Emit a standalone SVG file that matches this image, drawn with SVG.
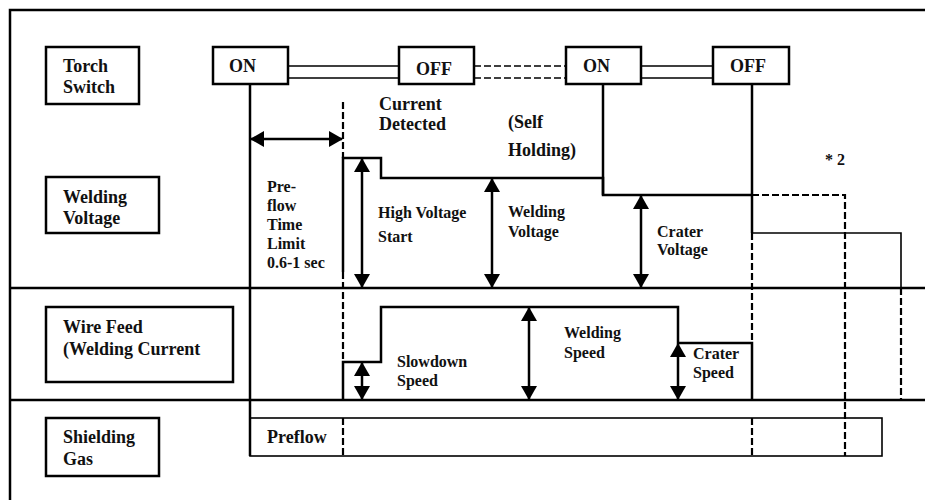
<svg xmlns="http://www.w3.org/2000/svg" width="925" height="500" viewBox="0 0 925 500">
<style>
.box{fill:#fff;stroke:#000;stroke-width:2.5}
.t{font-family:"Liberation Serif","Times New Roman",serif;font-weight:bold;font-size:18px;fill:#111}
.s{font-family:"Liberation Serif","Times New Roman",serif;font-weight:bold;font-size:16px;fill:#111}
.ln{fill:none;stroke:#000;stroke-width:2.5}
.thin{fill:none;stroke:#000;stroke-width:1.6}
.dash{fill:none;stroke:#000;stroke-width:2.2;stroke-dasharray:7 3}
.arr{fill:none;stroke:#000;stroke-width:2.5;marker-start:url(#ah);marker-end:url(#ah)}
</style>
<defs>
<marker id="ah" viewBox="0 0 14 16" refX="13" refY="8" markerWidth="14" markerHeight="16" markerUnits="userSpaceOnUse" orient="auto-start-reverse">
<path d="M0,0 L14,8 L0,16 Z" fill="#000"/>
</marker>
</defs>
<rect width="925" height="500" fill="#fff"/>
<g id="frame">
<path class="ln" d="M10,500 V10 H925" stroke-width="3"/>
<path class="ln" d="M10,288 H925 M10,400 H925"/>
</g>
<g id="connectors">
<path class="thin" d="M288,66 H399 M288,78 H399 M641,66 H713 M641,78 H713"/>
<path class="thin" d="M474,66 H566 M474,78 H566" stroke-dasharray="7 3"/>
<path class="ln" d="M250,84 V456"/>
<path class="ln" d="M603,84 V195"/>
<path class="ln" d="M752,84 V233"/>
<path class="dash" d="M343,102 V158 M343,272 V362 M343,418 V456"/>
<path class="dash" d="M752,233 V343 M752,418 V456"/>
<path class="dash" d="M752,195 H845 V456"/>
<path class="dash" d="M901,288 V400"/>
<path class="ln" d="M343,272 V158 H381 V178 H603 V195 H752"/>
<path class="thin" d="M752,233 H901 V288"/>
<path class="ln" d="M343,400 V362 H381 V307 H678 V343 H752 V400"/>
<rect class="thin" x="250" y="418" width="632" height="38"/>
<path class="arr" d="M251,139 H342"/>
<path class="arr" d="M362,159 V287"/>
<path class="arr" d="M492,179 V287"/>
<path class="arr" d="M641,196 V287"/>
<path class="arr" d="M362,363 V399"/>
<path class="arr" d="M529,308 V399"/>
<path class="arr" d="M678,344 V399"/>
</g>
<g id="torch-switch"><rect class="box" x="46" y="47" width="93" height="57"/><text class="t" x="63" y="72">Torch</text><text class="t" x="63" y="93">Switch</text></g>
<g id="on1"><rect class="box" x="213" y="47" width="75" height="37"/><text class="t" x="229" y="72">ON</text></g>
<g id="off1"><rect class="box" x="399" y="47" width="75" height="37"/><text class="t" x="416" y="75">OFF</text></g>
<g id="on2"><rect class="box" x="566" y="47" width="75" height="37"/><text class="t" x="583" y="72">ON</text></g>
<g id="off2"><rect class="box" x="713" y="47" width="76" height="37"/><text class="t" x="730" y="72">OFF</text></g>
<g id="welding-voltage"><rect class="box" x="46" y="177" width="113" height="56"/><text class="t" x="63" y="203">Welding</text><text class="t" x="63" y="224">Voltage</text></g>
<g id="wire-feed"><rect class="box" x="46" y="307" width="187" height="75"/><text class="t" x="63" y="333">Wire Feed</text><text class="t" x="63" y="355">(Welding Current</text></g>
<g id="shielding-gas"><rect class="box" x="46" y="418" width="113" height="58"/><text class="t" x="63" y="443">Shielding</text><text class="t" x="63" y="465">Gas</text></g>
<g id="labels">
<text class="t" x="379" y="110">Current</text>
<text class="t" x="379" y="130">Detected</text>
<text class="t" x="508" y="128">(Self</text>
<text class="t" x="508" y="156">Holding)</text>
<text class="s" x="825" y="165">* 2</text>
<text class="s" x="267" y="192">Pre-</text>
<text class="s" x="267" y="211">flow</text>
<text class="s" x="267" y="230">Time</text>
<text class="s" x="267" y="249">Limit</text>
<text class="s" x="267" y="268">0.6-1 sec</text>
<text class="s" x="378" y="218">High Voltage</text>
<text class="s" x="378" y="242">Start</text>
<text class="s" x="508" y="217">Welding</text>
<text class="s" x="508" y="237">Voltage</text>
<text class="s" x="657" y="237">Crater</text>
<text class="s" x="657" y="255">Voltage</text>
<text class="s" x="397" y="367">Slowdown</text>
<text class="s" x="397" y="386">Speed</text>
<text class="s" x="564" y="338">Welding</text>
<text class="s" x="564" y="358">Speed</text>
<text class="s" x="693" y="359">Crater</text>
<text class="s" x="693" y="378">Speed</text>
<text class="t" x="267" y="443">Preflow</text>
</g>
</svg>
